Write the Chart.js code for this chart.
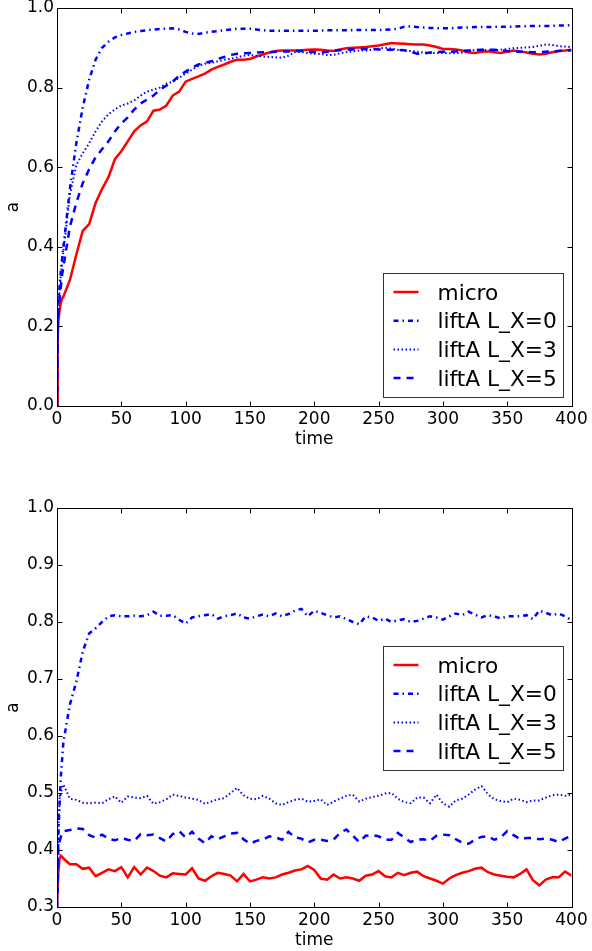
<!DOCTYPE html>
<html lang="en">
<head>
<meta charset="UTF-8">
<title>a vs time</title>
<script src="https://cdn.jsdelivr.net/npm/chart.js"></script>
<style>
  html, body { margin: 0; padding: 0; background: #fff; }
  #wrap { position: relative; width: 592px; height: 951px; }
  canvas { position: absolute; left: 0; }
  #top { top: 0; }
  #bottom { top: 475px; }
</style>
</head>
<body>
<div id="wrap">
  <canvas id="top" width="592" height="475"></canvas>
  <canvas id="bottom" width="592" height="476"></canvas>
</div>
<script>
// ---- data ----
const seriesNames = ['micro', 'liftA L_X=0', 'liftA L_X=3', 'liftA L_X=5'];
const xTicks = [0, 50, 100, 150, 200, 250, 300, 350, 400];
const topYTicks = [0, 0.2, 0.4, 0.6, 0.8, 1.0];
const bottomYTicks = [0.3, 0.4, 0.5, 0.6, 0.7, 0.8, 0.9, 1.0];

// top panel
const topTime = [0, 0.5, 1, 2, 3, 4, 5,
  10, 15, 20, 25, 30, 35, 40, 45, 50, 55,
  60, 65, 70, 75, 80, 85, 90, 95, 100, 105,
  110, 115, 120, 125, 130, 135, 140, 145, 150, 155,
  160, 165, 170, 175, 180, 185, 190, 195, 200, 205,
  210, 215, 220, 225, 230, 235, 240, 245, 250, 255,
  260, 265, 270, 275, 280, 285, 290, 295, 300, 305,
  310, 315, 320, 325, 330, 335, 340, 345, 350, 355,
  360, 365, 370, 375, 380, 385, 390, 395, 400];
const topMicro = [0, 0.17, 0.21, 0.24, 0.26, 0.27, 0.275,
  0.316, 0.38, 0.44, 0.457, 0.51, 0.545, 0.575, 0.62, 0.64, 0.665,
  0.69, 0.705, 0.715, 0.742, 0.745, 0.755, 0.78, 0.79, 0.815, 0.822,
  0.828, 0.835, 0.845, 0.852, 0.858, 0.865, 0.87, 0.87, 0.872, 0.878,
  0.883, 0.888, 0.892, 0.893, 0.893, 0.893, 0.894, 0.895, 0.896, 0.895,
  0.893, 0.892, 0.896, 0.899, 0.9, 0.901, 0.902, 0.904, 0.906, 0.909,
  0.912, 0.911, 0.91, 0.909, 0.908, 0.908, 0.906, 0.902, 0.897, 0.897,
  0.896, 0.893, 0.888, 0.887, 0.89, 0.891, 0.889, 0.887, 0.89, 0.893,
  0.891, 0.888, 0.885, 0.883, 0.885, 0.889, 0.892, 0.893, 0.895];
const topLX0 = [0, 0.2, 0.25, 0.30, 0.34, 0.37, 0.40,
  0.545, 0.66, 0.75, 0.82, 0.87, 0.9, 0.915, 0.926, 0.932, 0.936,
  0.94, 0.942, 0.944, 0.946, 0.947, 0.948, 0.949, 0.946, 0.94, 0.936,
  0.935, 0.938, 0.94, 0.942, 0.944, 0.946, 0.948, 0.948, 0.948, 0.946,
  0.944, 0.943, 0.943, 0.943, 0.943, 0.943, 0.943, 0.943, 0.943, 0.943,
  0.944, 0.944, 0.944, 0.944, 0.944, 0.945, 0.945, 0.945, 0.945, 0.945,
  0.946, 0.948, 0.953, 0.954, 0.952, 0.951, 0.95, 0.949, 0.949, 0.949,
  0.95, 0.951, 0.951, 0.952, 0.952, 0.952, 0.953, 0.953, 0.953, 0.953,
  0.954, 0.954, 0.955, 0.955, 0.955, 0.955, 0.956, 0.956, 0.957];
const topLX3 = [0, 0.2, 0.24, 0.29, 0.33, 0.36, 0.39,
  0.53, 0.605, 0.635, 0.66, 0.69, 0.715, 0.733, 0.745, 0.755, 0.76,
  0.768, 0.78, 0.79, 0.795, 0.80, 0.81, 0.815, 0.825, 0.835, 0.845,
  0.855, 0.86, 0.862, 0.866, 0.87, 0.872, 0.876, 0.88, 0.882, 0.88,
  0.878, 0.877, 0.876, 0.875, 0.88, 0.889, 0.89, 0.887, 0.885, 0.884,
  0.882, 0.882, 0.886, 0.889, 0.891, 0.893, 0.893, 0.895, 0.898, 0.9,
  0.898, 0.895, 0.893, 0.892, 0.89, 0.888, 0.887, 0.887, 0.887, 0.886,
  0.886, 0.888, 0.892, 0.895, 0.895, 0.894, 0.894, 0.895, 0.897, 0.899,
  0.9, 0.901, 0.902, 0.905, 0.908, 0.907, 0.904, 0.903, 0.902];
const topLX5 = [0, 0.19, 0.23, 0.27, 0.30, 0.33, 0.35,
  0.45, 0.51, 0.56, 0.595, 0.625, 0.645, 0.665, 0.69, 0.71, 0.725,
  0.745, 0.76, 0.77, 0.78, 0.795, 0.805, 0.815, 0.83, 0.84, 0.85,
  0.858, 0.862, 0.866, 0.872, 0.877, 0.882, 0.885, 0.886, 0.887, 0.888,
  0.889, 0.889, 0.89, 0.891, 0.891, 0.892, 0.892, 0.891, 0.889, 0.888,
  0.89, 0.893, 0.894, 0.895, 0.896, 0.897, 0.897, 0.897, 0.896, 0.895,
  0.895, 0.895, 0.894, 0.89, 0.885, 0.886, 0.888, 0.889, 0.89, 0.89,
  0.891, 0.892, 0.893, 0.894, 0.895, 0.895, 0.895, 0.894, 0.892, 0.891,
  0.89, 0.89, 0.889, 0.889, 0.89, 0.891, 0.892, 0.893, 0.894];

// bottom panel
const bottomTime = [0, 1, 2, 3, 4, 5,
  10, 15, 20, 25, 30, 35, 40, 45, 50, 55,
  60, 65, 70, 75, 80, 85, 90, 95, 100, 105,
  110, 115, 120, 125, 130, 135, 140, 145, 150, 155,
  160, 165, 170, 175, 180, 185, 190, 195, 200, 205,
  210, 215, 220, 225, 230, 235, 240, 245, 250, 255,
  260, 265, 270, 275, 280, 285, 290, 295, 300, 305,
  310, 315, 320, 325, 330, 335, 340, 345, 350, 355,
  360, 365, 370, 375, 380, 385, 390, 395, 400];
const bottomMicro = [0.3, 0.36, 0.385, 0.39, 0.388, 0.385,
  0.375, 0.375, 0.367, 0.369, 0.354, 0.36, 0.366, 0.363, 0.37, 0.352,
  0.37, 0.357, 0.369, 0.363, 0.355, 0.352, 0.359, 0.358, 0.357, 0.368,
  0.35, 0.346, 0.354, 0.36, 0.358, 0.355, 0.345, 0.358, 0.345, 0.348,
  0.352, 0.35, 0.352, 0.357, 0.36, 0.364, 0.366, 0.372, 0.365, 0.35,
  0.348, 0.357, 0.35, 0.352, 0.35, 0.346, 0.355, 0.357, 0.363, 0.354,
  0.352, 0.36, 0.356, 0.36, 0.362, 0.354, 0.35, 0.346, 0.341, 0.35,
  0.356, 0.36, 0.363, 0.367, 0.369, 0.361, 0.357, 0.355, 0.353, 0.352,
  0.358, 0.366, 0.347, 0.338, 0.348, 0.352, 0.352, 0.362, 0.355];
const bottomLX0 = [0.3, 0.42, 0.48, 0.53, 0.56, 0.59,
  0.655, 0.695, 0.748, 0.78, 0.789, 0.8, 0.81, 0.812, 0.81, 0.81,
  0.811, 0.81, 0.812, 0.818, 0.811, 0.811, 0.812, 0.804, 0.797, 0.808,
  0.81, 0.812, 0.814, 0.806, 0.81, 0.812, 0.815, 0.808, 0.806, 0.81,
  0.813, 0.81, 0.815, 0.81, 0.814, 0.82, 0.823, 0.81, 0.82, 0.816,
  0.812, 0.808, 0.81, 0.805, 0.8, 0.796, 0.81, 0.808, 0.802, 0.806,
  0.8, 0.803, 0.805, 0.8, 0.802, 0.806, 0.81, 0.808, 0.804, 0.81,
  0.815, 0.812, 0.818, 0.813, 0.808, 0.812, 0.81, 0.806, 0.81, 0.81,
  0.81, 0.812, 0.805, 0.82, 0.816, 0.812, 0.815, 0.81, 0.803];
const bottomLX3 = [0.3, 0.44, 0.49, 0.5, 0.51, 0.515,
  0.49, 0.488, 0.483, 0.482, 0.483, 0.482, 0.489, 0.494, 0.483, 0.494,
  0.492, 0.491, 0.495, 0.481, 0.484, 0.489, 0.497, 0.495, 0.492, 0.49,
  0.488, 0.481, 0.485, 0.489, 0.491, 0.5, 0.509, 0.496, 0.49, 0.489,
  0.495, 0.49, 0.482, 0.479, 0.484, 0.488, 0.49, 0.485, 0.486, 0.489,
  0.479, 0.485, 0.49, 0.495, 0.497, 0.485, 0.49, 0.493, 0.495, 0.499,
  0.5, 0.49, 0.484, 0.482, 0.492, 0.492, 0.482, 0.497, 0.482, 0.476,
  0.487, 0.49, 0.497, 0.506, 0.512, 0.498, 0.489, 0.486, 0.484, 0.49,
  0.488, 0.484, 0.487, 0.487, 0.492, 0.496, 0.497, 0.495, 0.497];
const bottomLX5 = [0.3, 0.404, 0.415, 0.423, 0.43, 0.433,
  0.435, 0.438, 0.437, 0.426, 0.422, 0.427, 0.42, 0.417, 0.421, 0.418,
  0.416, 0.428, 0.426, 0.427, 0.421, 0.415, 0.428, 0.433, 0.422, 0.432,
  0.42, 0.412, 0.424, 0.419, 0.424, 0.429, 0.43, 0.419, 0.411, 0.416,
  0.418, 0.424, 0.422, 0.418, 0.432, 0.422, 0.42, 0.413, 0.418, 0.418,
  0.416, 0.418, 0.43, 0.436, 0.425, 0.414, 0.425, 0.426, 0.424, 0.418,
  0.418, 0.43, 0.422, 0.414, 0.418, 0.419, 0.416, 0.425, 0.427, 0.426,
  0.419, 0.413, 0.411, 0.418, 0.423, 0.424, 0.418, 0.422, 0.433, 0.426,
  0.419, 0.421, 0.421, 0.419, 0.42, 0.418, 0.414, 0.42, 0.425];

// ---- styles ----
const lineStyles = [
  { color: '#ff0000', width: 2.5, dash: [] },
  { color: '#0000ff', width: 2.5, dash: [5, 4, 1.5, 4] },
  { color: '#0000ff', width: 2, dash: [1.5, 2.5] },
  { color: '#0000ff', width: 2.5, dash: [7, 6] }
];

Chart.defaults.font.family = '"DejaVu Sans", sans-serif';
Chart.defaults.color = '#000';

function makeDatasets(time, series) {
  return series.map((vals, i) => ({
    label: seriesNames[i],
    data: vals.map((v, k) => ({ x: time[k], y: v })),
    borderColor: lineStyles[i].color,
    borderWidth: lineStyles[i].width,
    borderDash: lineStyles[i].dash,
    pointRadius: 0,
    tension: 0,
    fill: false,
    order: series.length - i
  }));
}

// frame + inward ticks on all four sides
const framePlugin = {
  id: 'frame',
  afterDraw(chart) {
    const { ctx, chartArea: a, scales } = chart;
    const L = Math.round(a.left) + 0.5, R = Math.round(a.right) + 0.5;
    const T = Math.round(a.top) + 0.5, B = Math.round(a.bottom) + 0.5;
    ctx.save();
    ctx.strokeStyle = '#000';
    ctx.lineWidth = 1;
    ctx.strokeRect(L, T, R - L, B - T);
    ctx.beginPath();
    scales.x.ticks.forEach(t => {
      const px = Math.round(scales.x.getPixelForValue(t.value)) + 0.5;
      ctx.moveTo(px, B); ctx.lineTo(px, B - 5);
      ctx.moveTo(px, T); ctx.lineTo(px, T + 5);
    });
    scales.y.ticks.forEach(t => {
      const py = Math.round(scales.y.getPixelForValue(t.value)) + 0.5;
      ctx.moveTo(L, py); ctx.lineTo(L + 5, py);
      ctx.moveTo(R, py); ctx.lineTo(R - 5, py);
    });
    ctx.stroke();
    ctx.restore();
  }
};

// matplotlib-like boxed legend inside the plot
const boxLegend = {
  id: 'boxLegend',
  afterDraw(chart, args, opts) {
    const { ctx, chartArea: a } = chart;
    const w = 180, h = 124, rowH = 28.7;
    const x0 = Math.round(a.right - 9 - w) + 0.5;
    const y0 = Math.round(opts.loc === 'center right'
      ? (a.top + a.bottom) / 2 - h / 2
      : a.bottom - 9 - h) + 0.5;
    ctx.save();
    ctx.fillStyle = '#fff';
    ctx.fillRect(x0, y0, w, h);
    ctx.strokeStyle = '#333';
    ctx.lineWidth = 1;
    ctx.strokeRect(x0, y0, w, h);
    ctx.font = '21.7px "DejaVu Sans"';
    ctx.textBaseline = 'alphabetic';
    chart.data.datasets.forEach((ds, i) => {
      const y = y0 + 18.5 + i * rowH;
      ctx.beginPath();
      ctx.strokeStyle = ds.borderColor;
      ctx.lineWidth = ds.borderWidth;
      ctx.setLineDash(ds.borderDash);
      ctx.moveTo(x0 + 10, y);
      ctx.lineTo(x0 + 35, y);
      ctx.stroke();
      ctx.setLineDash([]);
      ctx.fillStyle = '#000';
      ctx.fillText(ds.label, x0 + 54, y + 7.5);
    });
    ctx.restore();
  }
};

function makeChart(id, time, series, yTicks, yMin, yMax, padTop, xHeight, titlePad, loc) {
  return new Chart(document.getElementById(id), {
    type: 'line',
    data: { datasets: makeDatasets(time, series) },
    options: {
      responsive: false,
      animation: false,
      layout: { padding: { left: 0, top: padTop, right: 20.5, bottom: 0 } },
      plugins: {
        legend: { display: false },
        tooltip: { enabled: false },
        boxLegend: { loc: loc }
      },
      scales: {
        x: {
          type: 'linear',
          min: 0,
          max: 400,
          grid: { display: false, drawTicks: false },
          border: { display: false },
          afterBuildTicks: s => { s.ticks = xTicks.map(v => ({ value: v })); },
          afterFit: s => { s.height = xHeight; s.paddingLeft = 0; s.paddingRight = 0; },
          ticks: {
            autoSkip: false, maxRotation: 0, padding: 3,
            font: { size: 17 }, color: '#000',
            callback: v => String(v)
          },
          title: { display: true, text: 'time', font: { size: 17 }, color: '#000',
                   padding: { top: 0, bottom: titlePad } }
        },
        y: {
          min: yMin,
          max: yMax,
          grid: { display: false, drawTicks: false },
          border: { display: false },
          afterBuildTicks: s => { s.ticks = yTicks.map(v => ({ value: v })); },
          afterFit: s => { s.width = 57; s.paddingTop = 0; s.paddingBottom = 0; },
          ticks: {
            padding: 3, font: { size: 17 }, color: '#000',
            callback: v => Number(v).toFixed(1)
          },
          title: { display: true, text: 'a', font: { size: 17 }, color: '#000',
                   padding: { top: 3, bottom: 0 } }
        }
      }
    },
    plugins: [framePlugin, boxLegend]
  });
}

makeChart('top', topTime, [topMicro, topLX0, topLX3, topLX5],
  topYTicks, 0, 1.0, 8, 69, 25, 'lower right');
makeChart('bottom', bottomTime, [bottomMicro, bottomLX0, bottomLX3, bottomLX5],
  bottomYTicks, 0.3, 1.0, 33, 44, 0, 'center right');
</script>
</body>
</html>
